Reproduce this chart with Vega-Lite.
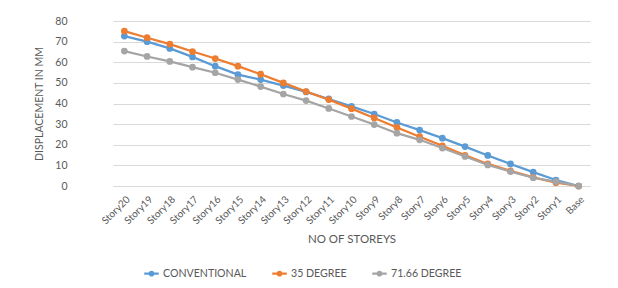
{
  "$schema": "https://vega.github.io/schema/vega-lite/v6.json",
  "autosize": {"type": "none"},
  "width": 525,
  "height": 165,
  "padding": {"left": 77, "top": 21, "right": 16, "bottom": 102},
  "background": "white",
  "config": {
    "font": "Lato",
    "view": {"stroke": null},
    "axis": {"labelColor": "#595959", "titleColor": "#595959", "labelFont": "Lato", "titleFont": "Lato", "titleFontWeight": "normal"},
    "legend": {"labelFont": "Lato", "labelColor": "#595959"}
  },
  "data": {
    "values": [
      {"story": "Story20", "series": "CONVENTIONAL", "value": 72.7},
      {"story": "Story19", "series": "CONVENTIONAL", "value": 70.0},
      {"story": "Story18", "series": "CONVENTIONAL", "value": 66.7},
      {"story": "Story17", "series": "CONVENTIONAL", "value": 62.6},
      {"story": "Story16", "series": "CONVENTIONAL", "value": 58.1},
      {"story": "Story15", "series": "CONVENTIONAL", "value": 54.0},
      {"story": "Story14", "series": "CONVENTIONAL", "value": 51.6},
      {"story": "Story13", "series": "CONVENTIONAL", "value": 48.7},
      {"story": "Story12", "series": "CONVENTIONAL", "value": 45.6},
      {"story": "Story11", "series": "CONVENTIONAL", "value": 42.2},
      {"story": "Story10", "series": "CONVENTIONAL", "value": 38.6},
      {"story": "Story9", "series": "CONVENTIONAL", "value": 34.9},
      {"story": "Story8", "series": "CONVENTIONAL", "value": 30.8},
      {"story": "Story7", "series": "CONVENTIONAL", "value": 27.1},
      {"story": "Story6", "series": "CONVENTIONAL", "value": 23.2},
      {"story": "Story5", "series": "CONVENTIONAL", "value": 19.1},
      {"story": "Story4", "series": "CONVENTIONAL", "value": 14.8},
      {"story": "Story3", "series": "CONVENTIONAL", "value": 10.7},
      {"story": "Story2", "series": "CONVENTIONAL", "value": 6.7},
      {"story": "Story1", "series": "CONVENTIONAL", "value": 2.9},
      {"story": "Base", "series": "CONVENTIONAL", "value": 0},
      {"story": "Story20", "series": "35 DEGREE", "value": 75.1},
      {"story": "Story19", "series": "35 DEGREE", "value": 71.9},
      {"story": "Story18", "series": "35 DEGREE", "value": 68.8},
      {"story": "Story17", "series": "35 DEGREE", "value": 65.2},
      {"story": "Story16", "series": "35 DEGREE", "value": 61.8},
      {"story": "Story15", "series": "35 DEGREE", "value": 58.1},
      {"story": "Story14", "series": "35 DEGREE", "value": 54.2},
      {"story": "Story13", "series": "35 DEGREE", "value": 50.0},
      {"story": "Story12", "series": "35 DEGREE", "value": 45.8},
      {"story": "Story11", "series": "35 DEGREE", "value": 41.9},
      {"story": "Story10", "series": "35 DEGREE", "value": 37.5},
      {"story": "Story9", "series": "35 DEGREE", "value": 33.0},
      {"story": "Story8", "series": "35 DEGREE", "value": 28.4},
      {"story": "Story7", "series": "35 DEGREE", "value": 23.9},
      {"story": "Story6", "series": "35 DEGREE", "value": 19.5},
      {"story": "Story5", "series": "35 DEGREE", "value": 14.9},
      {"story": "Story4", "series": "35 DEGREE", "value": 10.7},
      {"story": "Story3", "series": "35 DEGREE", "value": 7.3},
      {"story": "Story2", "series": "35 DEGREE", "value": 4.2},
      {"story": "Story1", "series": "35 DEGREE", "value": 1.6},
      {"story": "Base", "series": "35 DEGREE", "value": 0},
      {"story": "Story20", "series": "71.66 DEGREE", "value": 65.4},
      {"story": "Story19", "series": "71.66 DEGREE", "value": 62.8},
      {"story": "Story18", "series": "71.66 DEGREE", "value": 60.4},
      {"story": "Story17", "series": "71.66 DEGREE", "value": 57.6},
      {"story": "Story16", "series": "71.66 DEGREE", "value": 54.9},
      {"story": "Story15", "series": "71.66 DEGREE", "value": 51.6},
      {"story": "Story14", "series": "71.66 DEGREE", "value": 48.2},
      {"story": "Story13", "series": "71.66 DEGREE", "value": 44.6},
      {"story": "Story12", "series": "71.66 DEGREE", "value": 41.4},
      {"story": "Story11", "series": "71.66 DEGREE", "value": 37.6},
      {"story": "Story10", "series": "71.66 DEGREE", "value": 33.7},
      {"story": "Story9", "series": "71.66 DEGREE", "value": 29.8},
      {"story": "Story8", "series": "71.66 DEGREE", "value": 25.6},
      {"story": "Story7", "series": "71.66 DEGREE", "value": 22.4},
      {"story": "Story6", "series": "71.66 DEGREE", "value": 18.4},
      {"story": "Story5", "series": "71.66 DEGREE", "value": 14.3},
      {"story": "Story4", "series": "71.66 DEGREE", "value": 10.2},
      {"story": "Story3", "series": "71.66 DEGREE", "value": 7.0},
      {"story": "Story2", "series": "71.66 DEGREE", "value": 4.0},
      {"story": "Story1", "series": "71.66 DEGREE", "value": 2.1},
      {"story": "Base", "series": "71.66 DEGREE", "value": 0}
    ]
  },
  "mark": {"type": "line", "strokeWidth": 2.25, "point": {"filled": true, "size": 45}},
  "encoding": {
    "x": {
      "field": "story",
      "type": "nominal",
      "sort": null,
      "scale": {"type": "point", "range": [36, 513]},
      "axis": {
        "title": "NO OF STOREYS",
        "titleFontSize": 11.5,
        "titlePadding": 8,
        "labelAngle": -45,
        "labelAlign": "right",
        "labelBaseline": "top",
        "labelFontSize": 10,
        "labelPadding": 8,
        "ticks": false,
        "domain": true,
        "domainColor": "#D9D9D9",
        "grid": false
      }
    },
    "y": {
      "field": "value",
      "type": "quantitative",
      "scale": {"domain": [0, 80]},
      "axis": {
        "title": "DISPLACEMENT IN MM",
        "titleFontSize": 10.5,
        "titlePadding": 10,
        "values": [0, 10, 20, 30, 40, 50, 60, 70, 80],
        "labelFontSize": 10.5,
        "labelPadding": 10,
        "ticks": false,
        "domain": false,
        "gridColor": "#D9D9D9",
        "gridWidth": 1
      }
    },
    "color": {
      "field": "series",
      "type": "nominal",
      "scale": {"domain": ["CONVENTIONAL", "35 DEGREE", "71.66 DEGREE"], "range": ["#5B9BD5", "#ED7D31", "#A5A5A5"]},
      "legend": {
        "title": null,
        "orient": "none",
        "direction": "horizontal",
        "legendX": 66,
        "legendY": 244,
        "labelFontSize": 10.6,
        "symbolType": "M-1,0H1M-0.25,0A0.25,0.25 0 1,1 0.25,0A0.25,0.25 0 1,1 -0.25,0Z",
        "symbolSize": 210,
        "symbolStrokeWidth": 2.25,
        "labelOffset": 3,
        "columnPadding": 20
      }
    }
  }
}
